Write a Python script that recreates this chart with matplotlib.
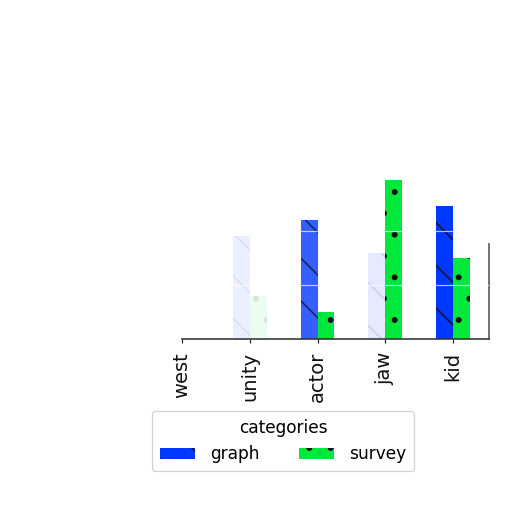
import matplotlib
matplotlib.use('Agg')
import matplotlib.pyplot as plt
import numpy as np

# ---- data ----
categories = ['west', 'unity', 'actor', 'jaw', 'kid']
graph = [0.0, 1.9, 2.2, 1.6, 2.46]
survey = [0.0, 0.8, 0.5, 2.95, 1.5]
series_names = ['graph', 'survey']
legend_title = 'categories'

# ---- style ----
graph_color = '#0038ff'
survey_color = '#00e83c'
graph_alpha = [1.0, 0.08, 0.8, 0.1, 1.0]
survey_alpha = [1.0, 0.08, 1.0, 1.0, 1.0]

DPI = 128
PX = 72.0 / DPI  # points per pixel

plt.rcParams['hatch.linewidth'] = 1.6 * PX
plt.rcParams['font.family'] = ['DejaVu Sans']

fig = plt.figure(figsize=(512 / DPI, 512 / DPI), dpi=DPI)
ax = fig.add_axes([182 / 512, 1 - 339 / 512, (489 - 182) / 512, (339 - 140) / 512])

x = np.arange(len(categories))
w = 0.25
b1 = ax.bar(x - w / 2, graph, w, color=graph_color, hatch='\\',
            edgecolor='#111133', linewidth=0, label=series_names[0])
b2 = ax.bar(x + w / 2, survey, w, color=survey_color, hatch='.',
            edgecolor='#111111', linewidth=0, label=series_names[1])
for p, a in zip(b1.patches, graph_alpha):
    p.set_alpha(a)
for p, a in zip(b2.patches, survey_alpha):
    p.set_alpha(a)

ax.set_xlim(0, 4.53)
ax.set_ylim(0, (339 - 140) / 54)
ax.set_xticks(x)
ax.set_xticklabels(categories, rotation=90, fontsize=19.5 * PX)
ax.set_yticks([1, 2])
ax.tick_params(axis='y', length=0, labelleft=False)
ax.tick_params(axis='x', length=4 * PX, width=1.2 * PX, pad=9 * PX, colors='#222222',
               labelcolor='#111111')
ax.set_axisbelow(False)
ax.grid(axis='y', color='white', alpha=0.7, linewidth=1.2 * PX)
ax.grid(axis='x', visible=False)

for s in ['top', 'left']:
    ax.spines[s].set_visible(False)
ax.spines['bottom'].set_linewidth(1.6 * PX)
ax.spines['bottom'].set_color('#333333')
ax.spines['right'].set_linewidth(1.6 * PX)
ax.spines['right'].set_color('#555555')
ax.spines['right'].set_bounds(0, (339 - 244) / 54)

leg = fig.legend(handles=[b1, b2], title=legend_title, ncol=2, loc='upper left',
                 bbox_to_anchor=(152 / 512, 1 - 411 / 512), borderaxespad=0,
                 fontsize=17 * PX, title_fontsize=17 * PX, frameon=True, fancybox=True,
                 handlelength=2.05, handleheight=0.6, handletextpad=0.9,
                 columnspacing=2.35, borderpad=0.45, framealpha=0.9)
leg.get_frame().set_edgecolor('#cccccc')
leg.get_frame().set_linewidth(1.2 * PX)

fig.savefig('out.png', dpi=DPI)
